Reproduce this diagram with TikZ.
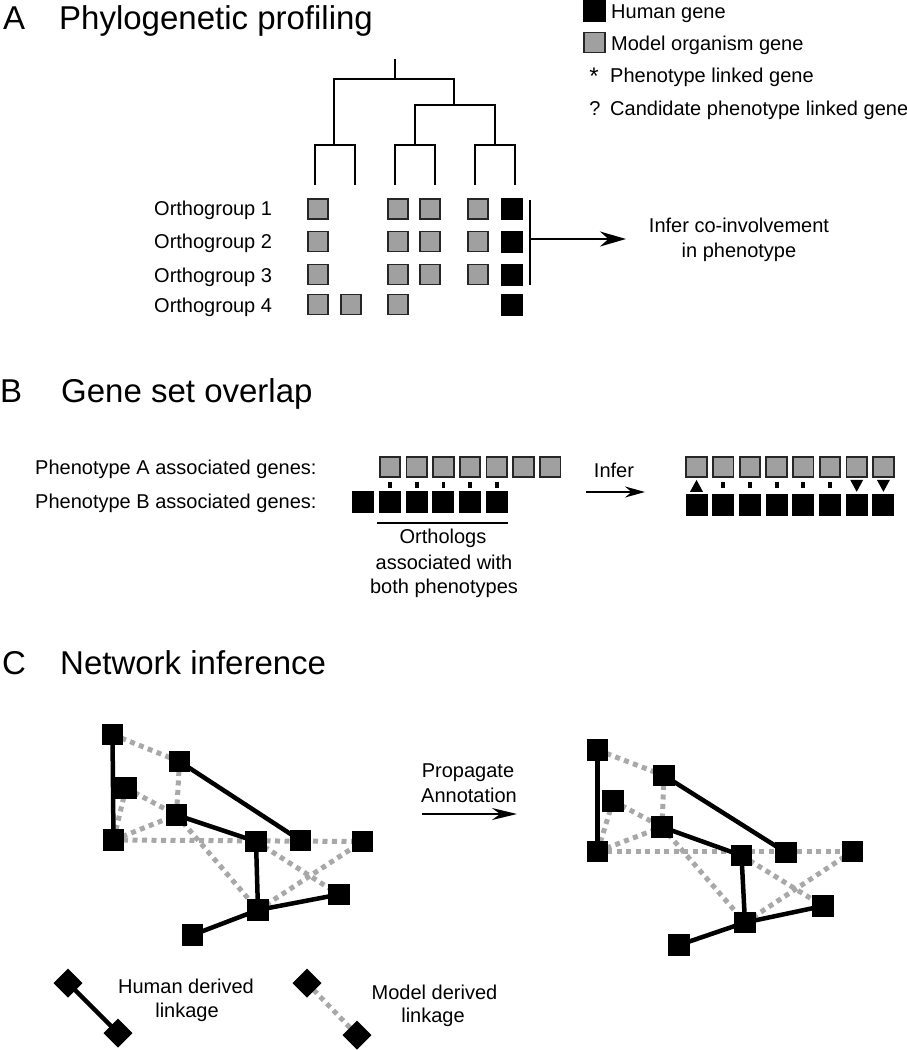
\documentclass[tikz,border=0pt]{standalone}
\usepackage{fontspec}
\setmainfont{Liberation Sans}
\usetikzlibrary{arrows.meta,backgrounds}
\definecolor{genegray}{RGB}{160,160,160}
\definecolor{linkgray}{RGB}{168,168,168}
\tikzset{
 txt/.style={inner sep=0pt, font=\fontsize{20}{24}\selectfont},
 ttl/.style={inner sep=0pt, font=\fontsize{33}{40}\selectfont},
 gsq/.style={rectangle, draw=black!85, line width=1.8pt, fill=genegray, minimum width=20.5pt, minimum height=20pt, inner sep=0pt},
 bsq/.style={rectangle, fill=black, minimum width=22pt, minimum height=22pt, inner sep=0pt},
 nsq/.style={rectangle, fill=black, minimum size=21.5pt, inner sep=0pt},
 dia/.style={rectangle, fill=black, minimum size=20.5pt, inner sep=0pt, rotate=45},
 treeline/.style={line width=1.8pt},
 human/.style={line width=4.5pt, black},
 model/.style={line width=5pt, linkgray, dash pattern=on 5pt off 4.5pt},
 tickmark/.style={line width=3.8pt},
}
\begin{document}
\begin{tikzpicture}[x=1pt,y=-1pt]
\useasboundingbox (0,0) rectangle (907,1050);

% ---------------- Panel A ----------------
\node[ttl, anchor=base west] (tA) at (3,29) {A};
\node[ttl, anchor=base west] (tAt) at (59,29) {Phylogenetic profiling};

% legend
\node[bsq, minimum width=23pt] (legH) at (594.5,11) {};
\node[gsq] (legM) at (594.5,42.5) {};
\node[txt, anchor=base west] (legHt) at (611,18) {Human gene};
\node[txt, anchor=base west] (legMt) at (611,50) {Model organism gene};
\node[txt, anchor=base] (legS) at (594,84) {\fontsize{24}{24}\selectfont *};
\node[txt, anchor=base west] (legSt) at (610,82) {Phenotype linked gene};
\node[txt, anchor=base] (legQ) at (595,115) {?};
\node[txt, anchor=base west] (legQt) at (610,115) {Candidate phenotype linked gene};

% tree
\draw[treeline] (395,59) -- (395,79);
\draw[treeline] (334,145) -- (334,79) -- (454,79) -- (454,105);
\draw[treeline] (315,185) -- (315,145) -- (355,145) -- (355,185);
\draw[treeline] (415,145) -- (415,105) -- (495,105) -- (495,145);
\draw[treeline] (395,185) -- (395,145) -- (435,145) -- (435,185);
\draw[treeline] (475,185) -- (475,145) -- (515,145) -- (515,185);

% orthogroup rows
\node[txt, anchor=base west] (og1) at (154,215) {Orthogroup 1};
\node[txt, anchor=base west] (og2) at (154,248) {Orthogroup 2};
\node[txt, anchor=base west] (og3) at (154,282) {Orthogroup 3};
\node[txt, anchor=base west] (og4) at (154,312) {Orthogroup 4};

\foreach \r/\y in {1/209,2/241.5,3/274.5}{
  \node[gsq] (a\r c1) at (318,\y) {};
  \node[gsq] (a\r c3) at (398,\y) {};
  \node[gsq] (a\r c4) at (430,\y) {};
  \node[gsq] (a\r c5) at (478,\y) {};
  \node[bsq] (a\r c6) at (512,\y) {};
}
\node[gsq] (a4c1) at (318,304.5) {};
\node[gsq] (a4c2) at (351,304.5) {};
\node[gsq] (a4c3) at (398,304.5) {};
\node[bsq] (a4c6) at (512,304.5) {};

\coordinate (barT) at (530,200);
\coordinate (barB) at (530,285);
\coordinate (barM) at (530,239);
\coordinate (arrAend) at (626,239);
\draw[treeline] (barT) -- (barB);
\draw[line width=1.8pt, -{Stealth[length=26pt,width=15pt]}] (barM) -- (arrAend);
\node[txt, anchor=base] (infA1) at (739,232) {Infer co-involvement};
\node[txt, anchor=base] (infA2) at (739,257) {in phenotype};

% ---------------- Panel B ----------------
\node[ttl, anchor=base west] (tB) at (0,402) {B};
\node[ttl, anchor=base west] (tBt) at (61,402) {Gene set overlap};

\node[txt, anchor=base west] (phA) at (35,474) {Phenotype A associated genes:};
\node[txt, anchor=base west] (phB) at (35,508) {Phenotype B associated genes:};

\foreach \k in {1,...,7}{
  \node[gsq] (GA\k) at ({390+26.7*(\k-1)},467) {};
}
\foreach \k in {1,...,6}{
  \node[bsq] (BB\k) at ({363.3+26.7*(\k-1)},502) {};
}
\foreach \k in {1,...,5}{
  \pgfmathtruncatemacro{\j}{\k+1}
  \draw[tickmark] ([yshift=-4pt]GA\k.south) -- ([yshift=3pt]BB\j.north);
}
\coordinate (ulL) at (377,523);
\coordinate (ulR) at (508,523);
\draw[line width=1.6pt] (ulL) -- (ulR);
\node[txt, anchor=base] (orth1) at (443,543) {Orthologs};
\node[txt, anchor=base] (orth2) at (444,569) {associated with};
\node[txt, anchor=base] (orth3) at (444,593) {both phenotypes};

\node[txt, anchor=base] (inferB) at (614,477) {Infer};
\coordinate (arrBs) at (586,492);
\coordinate (arrBe) at (645,492);
\draw[line width=1.6pt, -{Stealth[length=20pt,width=11pt]}] (arrBs) -- (arrBe);

\foreach \k in {1,...,8}{
  \node[gsq] (RG\k) at ({696.5+26.7*(\k-1)},467) {};
  \node[bsq] (RB\k) at ({696.5+26.7*(\k-1)},505) {};
}
\foreach \k in {2,...,6}{
  \draw[tickmark] ([yshift=-4pt]RG\k.south) -- ([yshift=6pt]RB\k.north);
}
\fill ([yshift=-2pt]RG1.south) -- ([xshift=-6.5pt,yshift=2pt]RB1.north) -- ([xshift=6.5pt,yshift=2pt]RB1.north) -- cycle;
\foreach \k in {7,8}{
  \fill ([xshift=-6.5pt,yshift=-2pt]RG\k.south) -- ([xshift=6.5pt,yshift=-2pt]RG\k.south) -- ([yshift=2pt]RB\k.north) -- cycle;
}

% ---------------- Panel C ----------------
\node[ttl, anchor=base west] (tC) at (2,674) {C};
\node[ttl, anchor=base west] (tCt) at (60,674) {Network inference};

% left network
\node[nsq] (L1) at (112.5,734.5) {};
\node[nsq] (L2) at (179.5,761.5) {};
\node[nsq] (L3) at (126,788) {};
\node[nsq] (L4) at (176.5,815) {};
\node[nsq] (L5) at (113.5,840) {};
\node[nsq] (L6) at (256,841.5) {};
\node[nsq] (L7) at (300.5,840.5) {};
\node[nsq] (L8) at (362.5,841.5) {};
\node[nsq] (L9) at (339,894.5) {};
\node[nsq] (L10) at (258,910) {};
\node[nsq] (L11) at (192.5,935) {};

% right network
\node[nsq] (R1) at (597.5,750) {};
\node[nsq] (R2) at (664,775.5) {};
\node[nsq] (R3) at (613,801) {};
\node[nsq] (R4) at (662,827) {};
\node[nsq] (R5) at (597.5,851.5) {};
\node[nsq] (R6) at (741.5,855.5) {};
\node[nsq] (R7) at (786,852.5) {};
\node[nsq] (R8) at (852.5,851.5) {};
\node[nsq] (R9) at (823,906) {};
\node[nsq] (R10) at (745,922.5) {};
\node[nsq] (R11) at (679,945) {};

\begin{scope}[on background layer]
  \foreach \p in {L,R}{
    \draw[model] (\p1.center) -- (\p2.center);
    \draw[model] (\p2.center) -- (\p4.center);
    \draw[model] (\p3.center) -- (\p4.center);
    \draw[model] (\p3.center) -- (\p5.center);
    \draw[model] (\p5.center) -- (\p4.center);
    \draw[model] (\p5.center) -- (\p8.center);
    \draw[model] (\p4.center) -- (\p10.center);
    \draw[model] (\p6.center) -- (\p9.center);
    \draw[model] (\p10.center) -- (\p8.center);
    \draw[human] (\p1.center) -- (\p5.center);
    \draw[human] (\p2.center) -- (\p7.center);
    \draw[human] (\p4.center) -- (\p6.center);
    \draw[human] (\p6.center) -- (\p10.center);
    \draw[human] (\p10.center) -- (\p9.center);
    \draw[human] (\p10.center) -- (\p11.center);
  }
\end{scope}

\node[txt, anchor=base] (prop1) at (468,777) {Propagate};
\node[txt, anchor=base] (prop2) at (469,802) {Annotation};
\coordinate (arrCs) at (422,814);
\coordinate (arrCe) at (517,814);
\draw[line width=1.8pt, -{Stealth[length=25pt,width=12pt]}] (arrCs) -- (arrCe);

% legend C
\node[dia] (D1) at (68,983) {};
\node[dia] (D2) at (118,1033) {};
\node[dia] (D3) at (307,983) {};
\node[dia] (D4) at (357,1035) {};
\begin{scope}[on background layer]
  \draw[human] (D1.center) -- (D2.center);
  \draw[model] (D3.center) -- (D4.center);
\end{scope}
\node[txt, anchor=base] (hl1) at (186,993) {Human derived};
\node[txt, anchor=base] (hl2) at (187,1017) {linkage};
\node[txt, anchor=base] (ml1) at (434.5,999) {Model derived};
\node[txt, anchor=base] (ml2) at (433,1022) {linkage};
\end{tikzpicture}
\end{document}
